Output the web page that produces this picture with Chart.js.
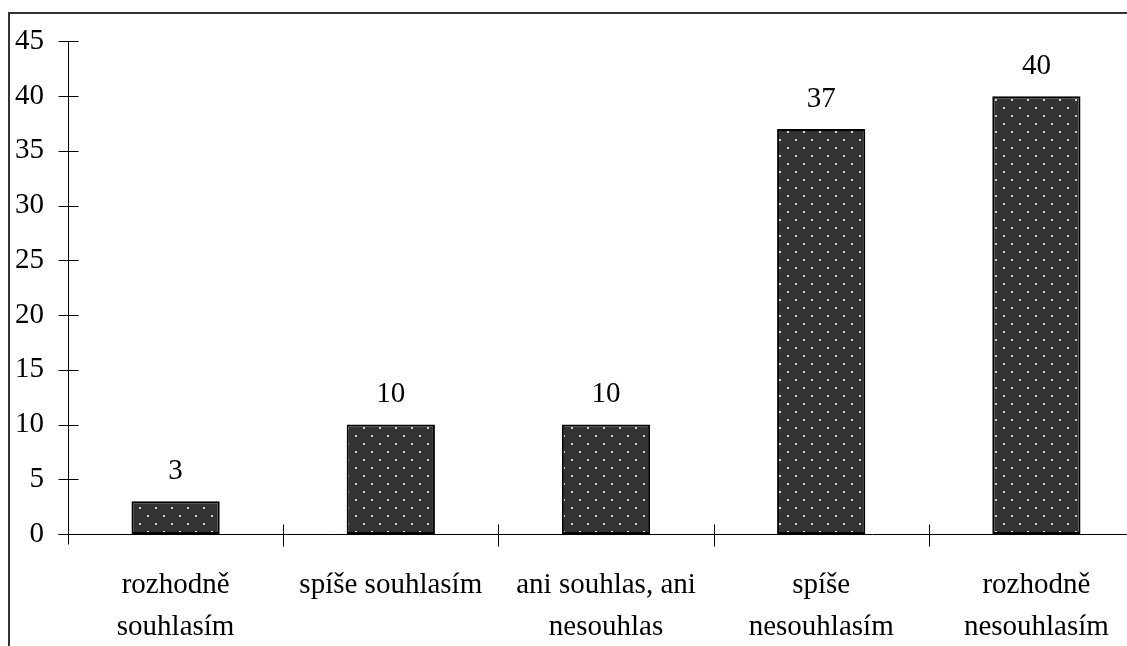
<!DOCTYPE html>
<html>
<head>
<meta charset="utf-8">
<script src="https://cdn.jsdelivr.net/npm/chart.js@4/dist/chart.umd.min.js"></script>
<style>
  html, body { margin: 0; padding: 0; background: #fff; overflow: hidden; width: 1127px; height: 646px; }
  #wrap { position: relative; width: 1127px; height: 646px; overflow: hidden; }
  #frame { position: absolute; left: 8px; top: 12px; width: 1200px; height: 700px;
           border-top: 2px solid #333; border-left: 2px solid #333; box-sizing: border-box; }
  canvas { position: absolute; left: 0; top: 0; }
</style>
</head>
<body>
<div id="wrap">
  <div id="frame"></div>
  <canvas id="c" width="1160" height="646"></canvas>
</div>
<script>
const categories = [
  ['rozhodně', 'souhlasím'],
  ['spíše souhlasím'],
  ['ani souhlas, ani', 'nesouhlas'],
  ['spíše', 'nesouhlasím'],
  ['rozhodně', 'nesouhlasím']
];
const values = [3, 10, 10, 37, 40];
const yTicks = [0, 5, 10, 15, 20, 25, 30, 35, 40, 45];

const FONT = "'Liberation Serif', 'Times New Roman', serif";

// dotted fill: dark ground with staggered light dots
function dotPattern() {
  const t = document.createElement('canvas');
  t.width = 16; t.height = 16;
  const g = t.getContext('2d');
  g.fillStyle = '#333333';
  g.fillRect(0, 0, 16, 16);
  g.fillStyle = '#cfcfcf';
  g.fillRect(3, 3, 2, 2);
  g.fillRect(11, 11, 2, 2);
  return g.createPattern(t, 'repeat');
}

// axis lines with cross-shaped tick marks, plus value labels
const axesPlugin = {
  id: 'crossAxes',
  afterDatasetsDraw(chart) {
    const { ctx, scales: { x, y } } = chart;
    const y0 = Math.round(y.getPixelForValue(0)) + 0.5;
    const yTop = y.getPixelForValue(45);
    const xl = Math.round(x.left) + 0.5;
    ctx.save();
    ctx.strokeStyle = '#000';
    ctx.lineWidth = 1;
    ctx.beginPath();
    ctx.moveTo(xl, yTop);
    ctx.lineTo(xl, y0 + 10);
    ctx.stroke();
    yTicks.forEach(v => {
      const py = Math.round(y.getPixelForValue(v)) + 0.5;
      ctx.beginPath();
      ctx.moveTo(xl - 10, py);
      ctx.lineTo(xl + 10, py);
      ctx.stroke();
    });
    ctx.beginPath();
    ctx.moveTo(xl - 10, y0);
    ctx.lineTo(x.right, y0);
    ctx.stroke();
    for (let i = 1; i < categories.length; i++) {
      const px = Math.round((x.getPixelForValue(i - 1) + x.getPixelForValue(i)) / 2) + 0.5;
      ctx.beginPath();
      ctx.moveTo(px, y0 - 10);
      ctx.lineTo(px, y0 + 12);
      ctx.stroke();
    }
    ctx.restore();
  },
  afterDraw(chart) {
    const { ctx } = chart;
    const meta = chart.getDatasetMeta(0);
    ctx.save();
    ctx.fillStyle = '#000';
    ctx.font = '29px ' + FONT;
    ctx.textAlign = 'center';
    ctx.textBaseline = 'middle';
    meta.data.forEach((bar, i) => {
      ctx.fillText(String(values[i]), bar.x, bar.y - 30);
    });
    ctx.restore();
  }
};

new Chart(document.getElementById('c'), {
  type: 'bar',
  data: {
    labels: categories,
    datasets: [{
      data: values,
      backgroundColor: dotPattern(),
      borderColor: '#000',
      borderWidth: 2,
      borderSkipped: false,
      barPercentage: 0.41,
      categoryPercentage: 1
    }]
  },
  options: {
    responsive: false,
    animation: false,
    devicePixelRatio: 1,
    layout: { padding: { left: 0, right: 16, top: 40, bottom: 0 } },
    plugins: { legend: { display: false }, tooltip: { enabled: false } },
    scales: {
      x: {
        grid: { display: false, drawTicks: false },
        border: { display: false },
        ticks: {
          color: '#000',
          font: { family: FONT, size: 29, lineHeight: 1.45 },
          padding: 30,
          maxRotation: 0,
          autoSkip: false
        },
        afterFit(s) { s.height = 112; }
      },
      y: {
        min: 0,
        max: 45,
        grid: { display: false, drawTicks: false },
        border: { display: false },
        afterBuildTicks(s) { s.ticks = yTicks.map(v => ({ value: v })); },
        ticks: {
          color: '#000',
          font: { family: FONT, size: 29 },
          padding: 24
        },
        afterFit(s) { s.width = 68; }
      }
    }
  },
  plugins: [axesPlugin]
});
</script>
</body>
</html>
